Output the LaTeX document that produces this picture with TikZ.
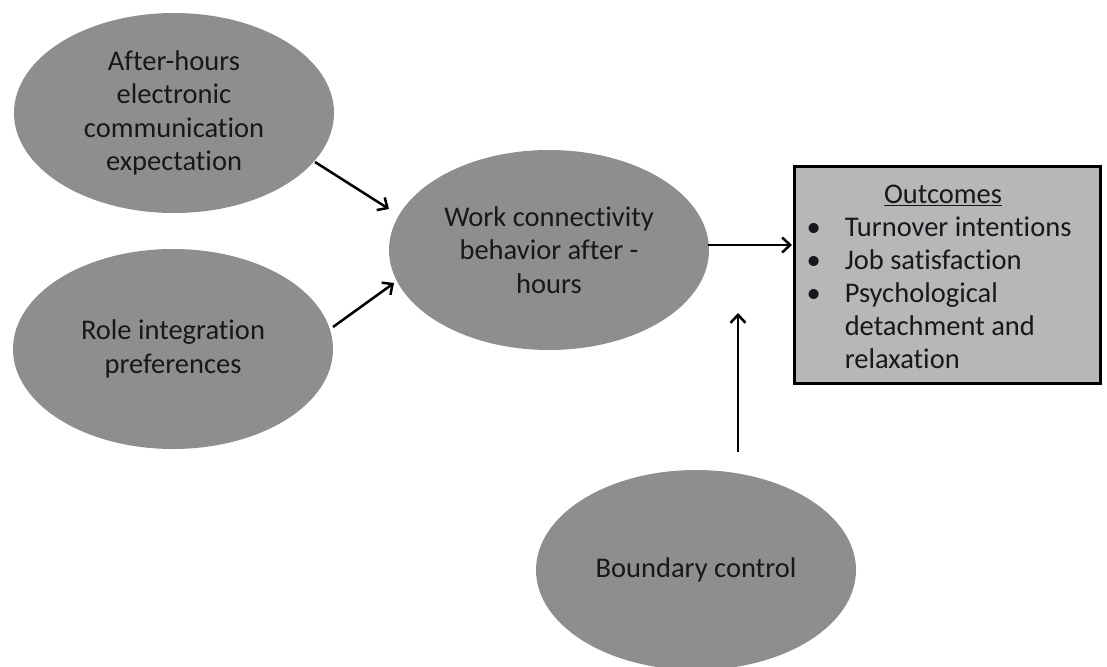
\documentclass[tikz,border=0pt]{standalone}
\usepackage{fontspec}
\setmainfont{Carlito}[Ligatures=NoCommon]
\usetikzlibrary{shapes.geometric,arrows.meta}

\definecolor{ellgray}{RGB}{142,142,142}
\definecolor{boxgray}{RGB}{183,183,183}
\definecolor{inkdark}{RGB}{24,24,28}

\tikzset{
  concept/.style={ellipse, fill=ellgray, draw=none, minimum width=320pt,
    minimum height=200pt, inner sep=0pt, align=center, text=inkdark,
    font=\fontsize{28.5}{33.5}\selectfont},
  outbox/.style={rectangle, fill=boxgray, draw=black, line width=3.6pt,
    minimum width=306pt, minimum height=217pt, inner sep=0pt},
  listtext/.style={text=inkdark, inner sep=0pt,
    font=\fontsize{28.5}{33}\selectfont},
  link/.style={draw=black, line width=2.5pt,
    -{Straight Barb[length=8pt,width=15pt,line width=2.5pt]}}
}

\begin{document}
\begin{tikzpicture}[x=1pt,y=-1pt]
  \useasboundingbox (0,0) rectangle (1107,666);

  % factors and mediator
  \node[concept] (expect) at (174,113)
    {After-hours\\electronic\\communication\\expectation};
  \node[concept] (role) at (173,349) {Role integration\\preferences};
  \node[concept] (wcb) at (549,250)
    {Work connectivity\\behavior after -\\hours};
  \node[concept] (bound) at (696,570) {Boundary control};

  % outcome box
  \node[outbox] (out) at (947.5,275) {};
  \node[listtext] (outtext) at (939,279) {%
    \begin{tabular}{@{}l@{\hspace{24pt}}l@{}}
      \multicolumn{2}{@{}c@{}}{\hspace{8pt}\underline{Outcomes}}\\
      \textbullet & Turnover intentions\\
      \textbullet & Job satisfaction\\
      \textbullet & Psychological\\
       & detachment and\\
       & relaxation
    \end{tabular}};

  % arrow end points
  \coordinate (a1s) at (315,162);
  \coordinate (a1e) at (389,209);
  \coordinate (a2s) at (333,327);
  \coordinate (a2e) at (394,283);
  \coordinate (a3s) at (708,245);
  \coordinate (a3e) at (792,245);
  \coordinate (a4s) at (738,452);
  \coordinate (a4e) at (738,313);

  \draw[link] (a1s) -- (a1e);
  \draw[link] (a2s) -- (a2e);
  \draw[link] (a3s) -- (a3e);
  \draw[link] (a4s) -- (a4e);
\end{tikzpicture}
\end{document}
